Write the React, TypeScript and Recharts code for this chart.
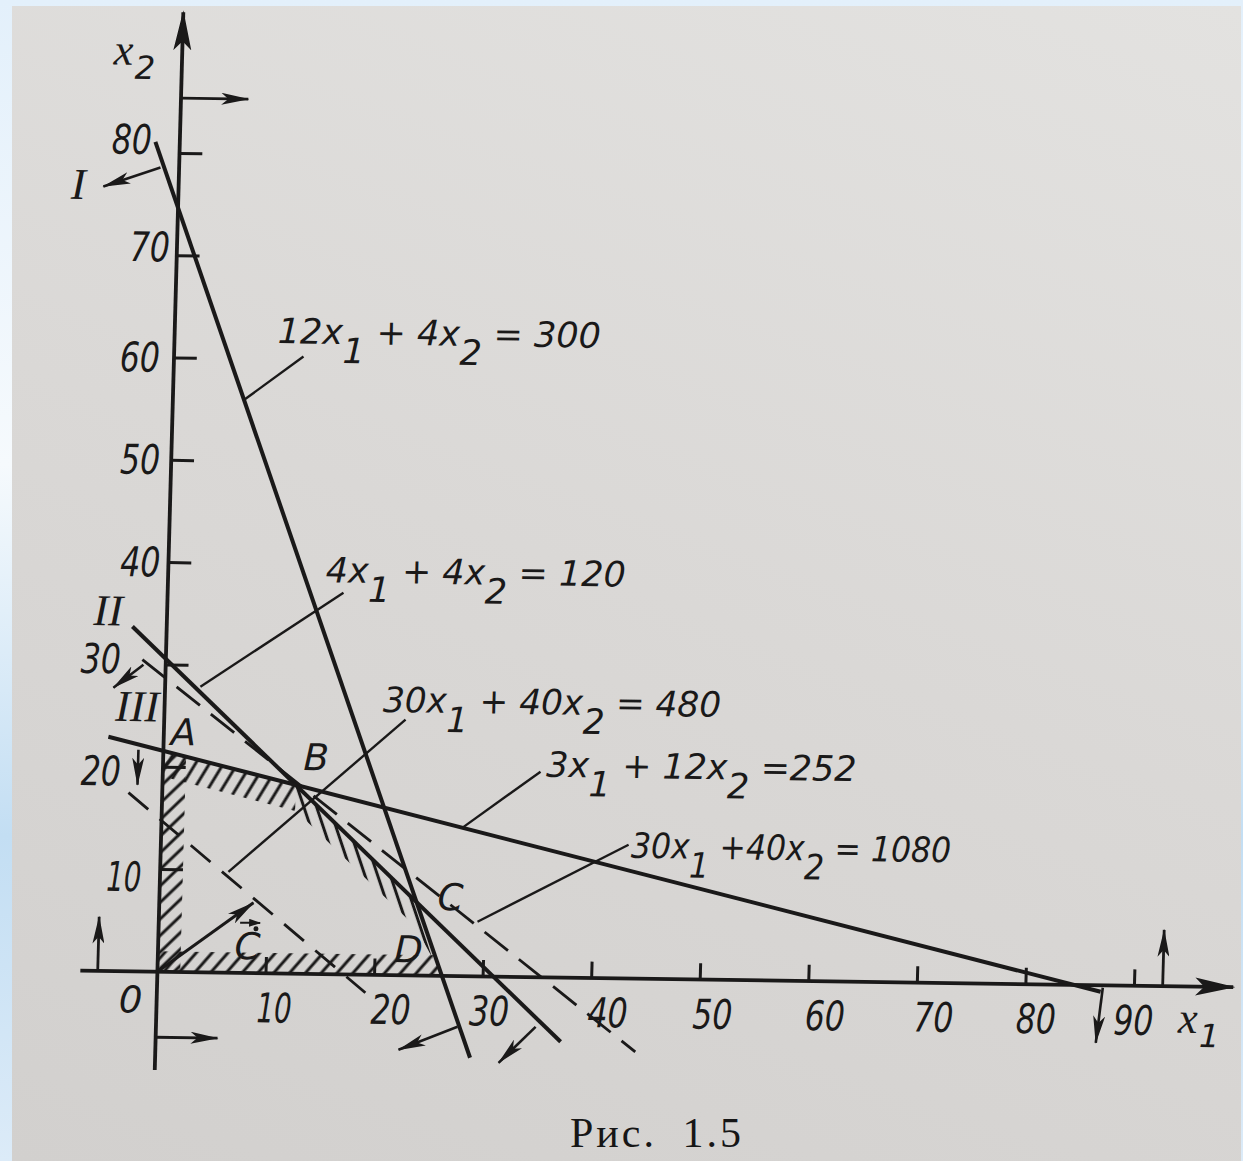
import React from 'react';
import { ComposedChart, XAxis, YAxis, Line, Area, Scatter, ReferenceLine } from 'recharts';

// constraint lines as drawn in the figure (end points, x = x1, y = x2)
const line1 = [{ x: -2.25, y: 81.1 }, { x: 29.0, y: -7.97 }];     // 12x1 + 4x2 = 300
const line2 = [{ x: -3.16, y: 33.7 }, { x: 37.3, y: -6.28 }];     // 4x1 + 4x2 = 120
const line3 = [{ x: -5.1, y: 22.9 }, { x: 86.9, y: -0.64 }];      // 3x1 + 12x2 = 252
const objLow = [{ x: -3.11, y: 17.46 }, { x: 19.2, y: -1.76 }];   // 30x1 + 40x2 = 480
const objHigh = [{ x: -2.16, y: 30.48 }, { x: 44.2, y: -7.16 }];  // 30x1 + 40x2 = 1080
const gradC = [{ x: 0, y: 0 }, { x: 8.67, y: 6.88 }];

// hatched strip along the boundary of OABCD
const bandTop = [{ x: 0, y: [19.1, 21.6] }, { x: 12.28, y: [15.9, 18.45] }];
const bandSlope = [{ x: 12.28, y: [16.0, 18.45] }, { x: 23.69, y: [4.7, 7.17] }, { x: 26.21, y: [0, 0] }];
const bandFloor = [{ x: 0, y: [0, 2.0] }, { x: 25.5, y: [0, 2.0] }, { x: 26.21, y: [0, 0] }];
const bandWall = [{ x: 0, y: [0, 21.6] }, { x: 2.1, y: [0, 21.05] }];

const xTicks = [10, 20, 30, 40, 50, 60, 70, 80, 90];
const yTicks = [10, 20, 30, 40, 50, 60, 70, 80];

// half-plane arrows of the constraints and of x1 >= 0, x2 >= 0
const constraintArrows = [
  [{ x: -1.72, y: 78.6 }, { x: -6.93, y: 76.67 }],
  [{ x: 27.77, y: -4.96 }, { x: 22.39, y: -7.29 }],
  [{ x: -2.05, y: 29.99 }, { x: -4.76, y: 27.7 }],
  [{ x: 34.96, y: -4.85 }, { x: 31.64, y: -8.42 }],
  [{ x: -2.3, y: 21.68 }, { x: -2.3, y: 18.25 }],
  [{ x: 87.09, y: -0.24 }, { x: 86.58, y: -5.63 }],
];
const signArrows = [
  [{ x: 0, y: 85.4 }, { x: 6.2, y: 85.4 }],
  [{ x: 0, y: -6.4 }, { x: 5.7, y: -6.4 }],
  [{ x: -5.5, y: 0 }, { x: -5.5, y: 5.3 }],
  [{ x: 92.6, y: 0 }, { x: 92.6, y: 5.5 }],
];

const leaders = [
  [{ x: 11.92, y: 60.33 }, { x: 6.6, y: 56.04 }],
  [{ x: 16.19, y: 37.31 }, { x: 3.25, y: 27.92 }],
  [{ x: 22.22, y: 24.98 }, { x: 6.29, y: 9.87 }],
  [{ x: 34.78, y: 20.09 }, { x: 27.74, y: 14.51 }],
  [{ x: 43.07, y: 13.07 }, { x: 29.35, y: 5.34 }],
];

const equationLabels = [
  { x: 9.5, y: 61.6, text: '12x_1 + 4x_2 = 300' },
  { x: 14.5, y: 38.3, text: '4x_1 + 4x_2 = 120' },
  { x: 20.1, y: 25.7, text: '30x_1 + 40x_2 = 480' },
  { x: 35.3, y: 19.6, text: '3x_1 + 12x_2 =252' },
  { x: 43.3, y: 11.8, text: '30x_1 +40x_2 = 1080' },
];
const pointLabels = [
  { x: 1.8, y: 23.4, text: 'A' },
  { x: 14.1, y: 21.15, text: 'B' },
  { x: 26.8, y: 7.64, text: 'C' },
  { x: 23.07, y: 2.5, text: 'D' },
  { x: -2.4, y: -2.8, text: '0' },
];
const romanLabels = [
  { x: -9.23, y: 76.83, text: 'I' },
  { x: -5.41, y: 35.22, text: 'II' },
  { x: -2.5, y: 25.88, text: 'III' },
];
const axisNames = [
  { x: -6.31, y: 88.6, text: 'x_2' },
  { x: 94.1, y: -4.54, text: 'x_1' },
];
const vectorLabel = [{ x: 8.23, y: 2.57, text: 'C' }];

const INK = '#1a1919';
const SANS = "'DejaVu Sans', 'Liberation Sans', sans-serif";
const SERIF = "'Liberation Serif', 'DejaVu Serif', serif";
const SUB = 19;

const EQ_WIDTH: Record<string, number> = {
  '12x_1 + 4x_2 = 300': 323,
  '4x_1 + 4x_2 = 120': 300,
  '30x_1 + 40x_2 = 480': 338,
  '3x_1 + 12x_2 =252': 310,
  '30x_1 +40x_2 = 1080': 320,
};
const X_LABEL_DX: Record<number, number> = { 10: 9, 20: 17, 30: 7, 40: 17, 50: 13, 60: 17, 70: 17, 80: 11, 90: 0 };
const Y_LABEL_DX: Record<number, number> = { 10: -36, 20: -62, 30: -65, 40: -28, 50: -31, 60: -34, 70: -27, 80: -48 };
const Y_LABEL_DY: Record<number, number> = { 10: 8, 20: 5, 30: -5, 40: 0, 50: 0, 60: 0, 70: -8, 80: -13 };

const numWidth = (s: string) => s.split('').reduce((w, c) => w + (c === '1' ? 15 : 20), 0);

function subParts(text: string) {
  return text.split(/_(\d)/).map((s, i) => (
    <tspan key={i} dy={i === 0 ? 0 : i % 2 ? SUB : -SUB}>{s}</tspan>
  ));
}

function EquationText(props: any) {
  const { cx, cy, payload } = props;
  return (
    <text x={cx} y={cy} fill={INK} fontSize={35} fontStyle="italic" fontFamily={SANS}
      textLength={EQ_WIDTH[payload.text]} lengthAdjust="spacingAndGlyphs">
      {subParts(payload.text)}
    </text>
  );
}

function CenterText(props: any) {
  const { cx, cy, payload } = props;
  return (
    <text x={cx} y={cy} fill={INK} fontSize={37} fontStyle="italic" fontFamily={SANS}
      textAnchor="middle" dominantBaseline="central">{payload.text}</text>
  );
}

function RomanText(props: any) {
  const { cx, cy, payload } = props;
  return (
    <text x={cx} y={cy} fill={INK} fontSize={44} fontStyle="italic" fontFamily={SERIF}
      textAnchor="middle" dominantBaseline="central">{payload.text}</text>
  );
}

function AxisName(props: any) {
  const { cx, cy, payload } = props;
  const [v, s] = payload.text.split('_');
  return (
    <text x={cx} y={cy} fill={INK} fontStyle="italic">
      <tspan fontFamily={SERIF} fontSize={44}>{v}</tspan>
      <tspan fontFamily={SANS} fontSize={32} dx={2} dy={14}>{s}</tspan>
    </text>
  );
}

function VectorText(props: any) {
  const { cx, cy, payload } = props;
  return (
    <g>
      <text x={cx} y={cy} fill={INK} fontSize={37} fontStyle="italic" fontFamily={SANS}
        textAnchor="middle" dominantBaseline="central">{payload.text}</text>
      <line x1={cx - 8} y1={cy - 24} x2={cx + 12} y2={cy - 24} stroke={INK} strokeWidth={2} markerEnd="url(#tinyHead)" />
      <circle cx={cx + 8} cy={cy - 18} r={2.5} fill={INK} />
    </g>
  );
}

function XTickLabel(props: any) {
  const { cx, cy, payload } = props;
  return (
    <text x={cx + (X_LABEL_DX[payload.v] ?? 12)} y={cy + 35} fill={INK} fontSize={41} fontStyle="italic"
      fontFamily={SANS} textAnchor="middle" dominantBaseline="central"
      textLength={numWidth(payload.text)} lengthAdjust="spacingAndGlyphs">{payload.text}</text>
  );
}

function YTickLabel(props: any) {
  const { cx, cy, payload } = props;
  return (
    <text x={cx + (Y_LABEL_DX[payload.v] ?? -30)} y={cy + (Y_LABEL_DY[payload.v] ?? 0)} fill={INK} fontSize={41}
      fontStyle="italic" fontFamily={SANS} textAnchor="middle" dominantBaseline="central"
      textLength={numWidth(payload.text)} lengthAdjust="spacingAndGlyphs">{payload.text}</text>
  );
}

function Defs() {
  const hatch = (id: string, angle: number) => (
    <pattern id={id} patternUnits="userSpaceOnUse" width={12} height={12} patternTransform={`rotate(${angle})`}>
      <line x1={6} y1={0} x2={6} y2={12} stroke={INK} strokeWidth={3} />
    </pattern>
  );
  return (
    <svg width={0} height={0} style={{ position: 'absolute' }}>
      <defs>
        <marker id="axisHead" viewBox="0 0 40 20" refX={38} refY={10} markerWidth={40} markerHeight={20}
          orient="auto" markerUnits="userSpaceOnUse">
          <path d="M0,1 L40,10 L0,19 L9,10 Z" fill={INK} />
        </marker>
        <marker id="head" viewBox="0 0 28 12" refX={27} refY={6} markerWidth={28} markerHeight={12}
          orient="auto" markerUnits="userSpaceOnUse">
          <path d="M0,0 L28,6 L0,12 L7,6 Z" fill={INK} />
        </marker>
        <marker id="tinyHead" viewBox="0 0 12 8" refX={11} refY={4} markerWidth={12} markerHeight={8}
          orient="auto" markerUnits="userSpaceOnUse">
          <path d="M0,0 L12,4 L0,8 Z" fill={INK} />
        </marker>
        {hatch('hatchTop', 30)}
        {hatch('hatchSlope', -20)}
        {hatch('hatchFloor', 40)}
        {hatch('hatchWall', 45)}
      </defs>
    </svg>
  );
}

const TICK_UP = 1.6;
const TICK_RIGHT = 2.1;

export default function App() {
  const xTickData = xTicks.map(v => ({ x: v, y: 0, v, text: String(v) }));
  const yTickData = yTicks.map(v => ({ x: 0, y: v, v, text: String(v) }));

  const bands = [
    { data: bandTop, fill: 'url(#hatchTop)' },
    { data: bandSlope, fill: 'url(#hatchSlope)' },
    { data: bandFloor, fill: 'url(#hatchFloor)' },
    { data: bandWall, fill: 'url(#hatchWall)' },
  ];

  return (
    <div style={{
      position: 'absolute', left: 0, top: 0, width: 1243, height: 1161, overflow: 'hidden',
      background: 'linear-gradient(to bottom, #e3f0fb 0%, #f6fafd 40%, #c3def3 72%, #dcebf8 100%)',
    }}>
      <Defs />
      <div style={{
        position: 'absolute', left: 12, top: 6, right: 2, bottom: 0,
        background: 'linear-gradient(200deg, #e3e2e0 0%, #dad8d6 50%, #d2d0ce 100%)',
      }} />
      <div style={{
        position: 'absolute', left: 0, top: 0,
        transform: 'matrix(1, 0.0143, -0.027, 1, 0, 0)', transformOrigin: '157px 972px',
      }}>
        <ComposedChart width={1243} height={1161} margin={{ top: 0, right: 0, bottom: 0, left: 0 }}>
          <XAxis type="number" dataKey="x" domain={[-14.5, 100]} allowDataOverflow hide />
          <YAxis type="number" dataKey="y" domain={[-18.5, 95]} allowDataOverflow hide />

          {bands.map((b, i) => (
            <Area key={`band${i}`} data={b.data} dataKey="y" type="linear" stroke="none"
              fill={b.fill} fillOpacity={1} isAnimationActive={false} />
          ))}

          {/* axes */}
          <ReferenceLine segment={[{ x: -7.1, y: 0 }, { x: 99.1, y: 0 }]} stroke={INK} strokeWidth={3.8}
            markerEnd="url(#axisHead)" ifOverflow="visible" />
          <ReferenceLine segment={[{ x: 0, y: -9.6 }, { x: 0, y: 93.8 }]} stroke={INK} strokeWidth={3.8}
            markerEnd="url(#axisHead)" ifOverflow="visible" />
          {xTicks.map(v => (
            <ReferenceLine key={`xt${v}`} segment={[{ x: v, y: 0 }, { x: v, y: TICK_UP }]} stroke={INK}
              strokeWidth={3} ifOverflow="visible" />
          ))}
          {yTicks.map(v => (
            <ReferenceLine key={`yt${v}`} segment={[{ x: 0, y: v }, { x: TICK_RIGHT, y: v }]} stroke={INK}
              strokeWidth={3} ifOverflow="visible" />
          ))}

          {/* constraint and objective lines */}
          <Line data={line1} dataKey="y" type="linear" stroke={INK} strokeWidth={4} dot={false}
            activeDot={false} isAnimationActive={false} />
          <Line data={line2} dataKey="y" type="linear" stroke={INK} strokeWidth={4} dot={false}
            activeDot={false} isAnimationActive={false} />
          <Line data={line3} dataKey="y" type="linear" stroke={INK} strokeWidth={4} dot={false}
            activeDot={false} isAnimationActive={false} />
          <Line data={objLow} dataKey="y" type="linear" stroke={INK} strokeWidth={2.8} strokeDasharray="26 15"
            dot={false} activeDot={false} isAnimationActive={false} />
          <Line data={objHigh} dataKey="y" type="linear" stroke={INK} strokeWidth={2.8} strokeDasharray="30 14"
            dot={false} activeDot={false} isAnimationActive={false} />

          {leaders.map((seg, i) => (
            <ReferenceLine key={`ld${i}`} segment={seg} stroke={INK} strokeWidth={2.4} ifOverflow="visible" />
          ))}
          {constraintArrows.map((seg, i) => (
            <ReferenceLine key={`ca${i}`} segment={seg} stroke={INK} strokeWidth={2.6}
              markerEnd="url(#head)" ifOverflow="visible" />
          ))}
          {signArrows.map((seg, i) => (
            <ReferenceLine key={`sa${i}`} segment={seg} stroke={INK} strokeWidth={2.8}
              markerEnd="url(#head)" ifOverflow="visible" />
          ))}
          <ReferenceLine segment={gradC} stroke={INK} strokeWidth={3} markerEnd="url(#head)" ifOverflow="visible" />

          <Scatter data={xTickData} dataKey="y" shape={XTickLabel} isAnimationActive={false} />
          <Scatter data={yTickData} dataKey="y" shape={YTickLabel} isAnimationActive={false} />
          <Scatter data={equationLabels} dataKey="y" shape={EquationText} isAnimationActive={false} />
          <Scatter data={pointLabels} dataKey="y" shape={CenterText} isAnimationActive={false} />
          <Scatter data={romanLabels} dataKey="y" shape={RomanText} isAnimationActive={false} />
          <Scatter data={axisNames} dataKey="y" shape={AxisName} isAnimationActive={false} />
          <Scatter data={vectorLabel} dataKey="y" shape={VectorText} isAnimationActive={false} />
        </ComposedChart>
      </div>
      <div style={{
        position: 'absolute', left: 570, top: 1111, fontFamily: SERIF, fontSize: 42, lineHeight: '44px',
        color: '#161616', letterSpacing: 3, wordSpacing: 12, whiteSpace: 'pre',
      }}>Рис. 1.5</div>
    </div>
  );
}
